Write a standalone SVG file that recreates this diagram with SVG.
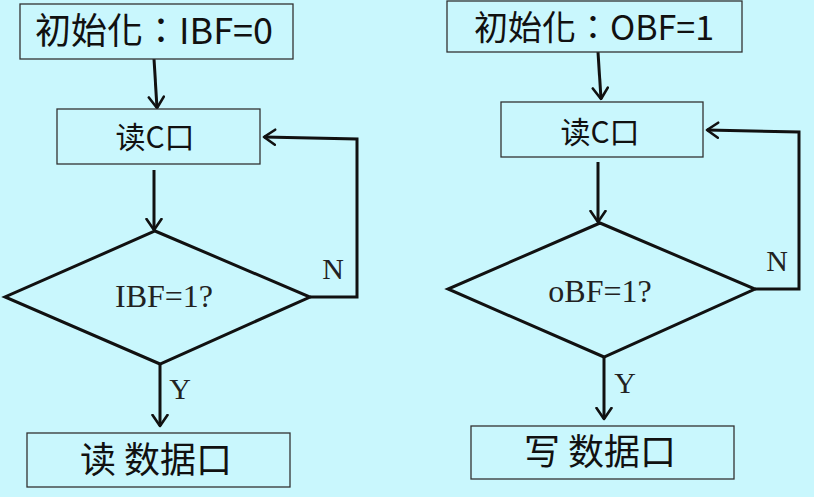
<svg xmlns="http://www.w3.org/2000/svg" width="814" height="497" viewBox="0 0 814 497">
<defs>
<marker id="arr" viewBox="0 0 14 18" refX="12.5" refY="9" markerWidth="14" markerHeight="18" markerUnits="userSpaceOnUse" orient="auto">
<path d="M1.5,1.5 L12.5,9 L1.5,16.5" fill="none" stroke="#111" stroke-width="2.6" stroke-linecap="round" stroke-linejoin="round"/>
</marker>
<style>
.box{fill:#c9f7fd;stroke:#333;stroke-width:1.3}
.dia{fill:none;stroke:#111;stroke-width:3}
.ln{fill:none;stroke:#111;stroke-width:3}
.cjk{font-family:"Noto Sans CJK SC","Noto Sans",sans-serif;fill:#111;text-anchor:middle}
.tc{font-family:"Noto Sans CJK TC","Noto Sans CJK SC",sans-serif;fill:#111;text-anchor:middle}
.ser{font-family:"Liberation Serif",serif;fill:#222;text-anchor:middle}
</style>
</defs>
<rect width="814" height="497" fill="#c9f7fd"/>
<g id="connectors">
<path class="ln" d="M154,59 L157,108" marker-end="url(#arr)"/>
<path class="ln" d="M154,170 L154,230" marker-end="url(#arr)"/>
<path class="ln" d="M310,297 L357,297 L357,139 L264,137" marker-end="url(#arr)"/>
<path class="ln" d="M160,364 L160,426" marker-end="url(#arr)"/>
<path class="ln" d="M598,52 L601,99" marker-end="url(#arr)"/>
<path class="ln" d="M598,162 L598,222" marker-end="url(#arr)"/>
<path class="ln" d="M755,289 L799,289 L799,132 L707,130" marker-end="url(#arr)"/>
<path class="ln" d="M604,357 L604,419" marker-end="url(#arr)"/>
<text class="ser" x="333" y="279" font-size="30">N</text>
<text class="ser" x="180" y="399" font-size="30">Y</text>
<text class="ser" x="777" y="271" font-size="30">N</text>
<text class="ser" x="625" y="393" font-size="30">Y</text>
</g>
<g id="init1">
<rect class="box" x="20" y="4" width="273" height="55"/>
<text class="tc" x="154" y="44" font-size="36">初始化：IBF=0</text>
</g>
<g id="readc1">
<rect class="box" x="57" y="109" width="203" height="55"/>
<text class="cjk" x="155" y="148" font-size="30">读C口</text>
</g>
<g id="dec1">
<polygon class="dia" points="155,231 310,297 160,364 5,297"/>
<text class="ser" x="164" y="307" font-size="32">IBF=1?</text>
</g>
<g id="read1">
<rect class="box" x="27" y="433" width="263" height="54"/>
<text class="cjk" x="156" y="473" font-size="36">读 数据口</text>
</g>
<g id="init2">
<rect class="box" x="447" y="1" width="295" height="51"/>
<text class="tc" x="594" y="40" font-size="34">初始化：OBF=1</text>
</g>
<g id="readc2">
<rect class="box" x="501" y="102" width="202" height="55"/>
<text class="cjk" x="600" y="143" font-size="30">读C口</text>
</g>
<g id="dec2">
<polygon class="dia" points="600,223 755,289 604,357 448,289"/>
<text class="ser" x="600" y="302" font-size="32">oBF=1?</text>
</g>
<g id="write2">
<rect class="box" x="471" y="426" width="263" height="53"/>
<text class="cjk" x="600" y="465" font-size="36">写 数据口</text>
</g>
</svg>
